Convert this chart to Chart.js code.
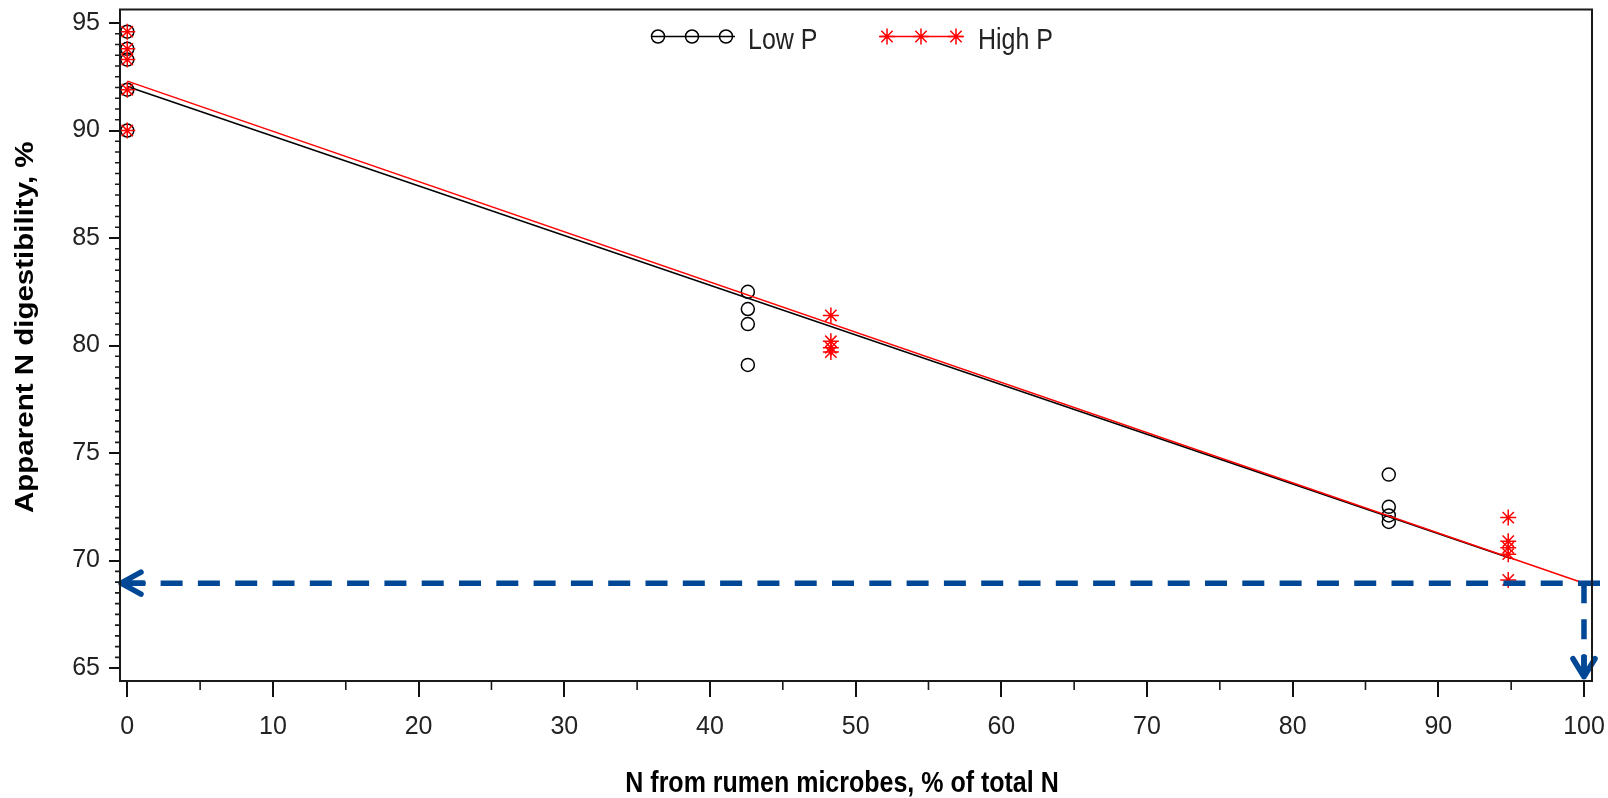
<!DOCTYPE html>
<html>
<head>
<meta charset="utf-8">
<script src="https://cdn.jsdelivr.net/npm/chart.js"></script>
<style>
  html, body { margin: 0; padding: 0; background: #fff; }
</style>
</head>
<body>
<canvas id="chart" width="1608" height="798"></canvas>
<script>
// values
const lowPX = [0, 42.6, 86.6];
const lowPY = [
    [94.6, 93.8, 93.3, 91.9, 90.0],
    [82.5, 81.7, 81.0, 79.1],
    [74.0, 72.5, 72.1, 71.8]
];
const highPX = [0, 48.3, 94.8];
const highPY = [
    [94.6, 93.8, 93.3, 91.9, 90.0],
    [81.4, 80.2, 79.9, 79.7],
    [72.0, 70.9, 70.6, 70.3, 69.1]
];
// fitted lines (end points)
const lowFitX = [0, 95];
const lowFitY = [92.05, 70.1];
const highFitX = [0, 100];
const highFitY = [92.3, 68.95];
// dashed guide arrows
const guideHX = [101.1, -0.5];
const guideHY = [68.95, 68.95];
const guideVX = [100, 100];
const guideVY = [68.95, 64.6];

const xTicks = [0, 10, 20, 30, 40, 50, 60, 70, 80, 90, 100];
const yTicks = [65, 70, 75, 80, 85, 90, 95];

const BLUE = '#004795';

Chart.defaults.font.family = "'Liberation Sans', Arial, sans-serif";

const toPts = (xs, ys) => xs.flatMap((x, i) => ys[i].map(y => ({x: x, y: y})));
const toLine = (xs, ys) => xs.map((x, i) => ({x: x, y: ys[i]}));

// the source picture is a bit stretched vertically, so its text is taller
function stretchedText(ctx, text, x, y, sx, sy) {
    ctx.save();
    ctx.translate(x, y);
    ctx.scale(sx, sy);
    ctx.fillText(text, 0, 0);
    ctx.restore();
}

// frame, minor ticks, arrow heads, legend and axis titles
const decorPlugin = {
    id: 'decor',
    afterDatasetsDraw(chart) {
        const {ctx, scales: {x, y}} = chart;
        ctx.save();
        ctx.strokeStyle = BLUE;
        ctx.lineWidth = 5.5;
        ctx.lineCap = 'round';
        ctx.lineJoin = 'round';
        // left arrow
        let tx = x.getPixelForValue(guideHX[1]) + 1, ty = y.getPixelForValue(guideHY[1]);
        ctx.beginPath();
        ctx.moveTo(tx + 20, ty - 11); ctx.lineTo(tx, ty); ctx.lineTo(tx + 20, ty + 11);
        ctx.moveTo(tx, ty); ctx.lineTo(tx + 22, ty);
        ctx.stroke();
        // down arrow
        tx = x.getPixelForValue(guideVX[1]); ty = y.getPixelForValue(guideVY[1]);
        ctx.beginPath();
        ctx.moveTo(tx - 11, ty - 18); ctx.lineTo(tx, ty); ctx.lineTo(tx + 11, ty - 18);
        ctx.moveTo(tx, ty); ctx.lineTo(tx, ty - 20);
        ctx.stroke();
        ctx.restore();
    },
    afterDraw(chart) {
        const {ctx, chartArea: a, scales: {x, y}} = chart;
        ctx.save();
        ctx.strokeStyle = '#1a1a1a';
        ctx.lineWidth = 2;
        ctx.strokeRect(a.left, a.top, a.right - a.left, a.bottom - a.top);

        // minor ticks
        ctx.lineWidth = 1.6;
        ctx.beginPath();
        for (let v = 5; v < 100; v += 10) {
            const px = x.getPixelForValue(v);
            ctx.moveTo(px, a.bottom); ctx.lineTo(px, a.bottom + 9);
        }
        for (let k = 131; k < 190; k++) {
            if (k % 10 === 0) continue;
            const py = y.getPixelForValue(k / 2);
            ctx.moveTo(a.left - 5, py); ctx.lineTo(a.left, py);
        }
        ctx.stroke();

        // legend
        const cx = (a.left + a.right) / 2;
        const ly = a.top + 27;
        ctx.lineWidth = 1.5;
        ctx.strokeStyle = '#000';
        ctx.beginPath(); ctx.moveTo(cx - 205, ly); ctx.lineTo(cx - 121, ly); ctx.stroke();
        [cx - 198, cx - 164, cx - 130].forEach(mx => {
            ctx.beginPath(); ctx.arc(mx, ly, 6.5, 0, Math.PI * 2); ctx.stroke();
        });
        ctx.strokeStyle = '#ff0000';
        ctx.beginPath(); ctx.moveTo(cx + 24, ly); ctx.lineTo(cx + 107, ly); ctx.stroke();
        [cx + 31, cx + 65, cx + 100].forEach(mx => {
            ctx.beginPath();
            for (let k = 0; k < 4; k++) {
                const ang = k * Math.PI / 4;
                ctx.moveTo(mx - 8 * Math.cos(ang), ly - 8 * Math.sin(ang));
                ctx.lineTo(mx + 8 * Math.cos(ang), ly + 8 * Math.sin(ang));
            }
            ctx.stroke();
        });
        ctx.fillStyle = '#222';
        ctx.font = "25px 'Liberation Sans', Arial, sans-serif";
        ctx.textBaseline = 'alphabetic';
        ctx.textAlign = 'left';
        stretchedText(ctx, 'Low P', cx - 108, a.top + 39, 1, 1.15);
        stretchedText(ctx, 'High P', cx + 122, a.top + 39, 1, 1.15);

        // axis titles
        ctx.fillStyle = '#000';
        ctx.font = "bold 25px 'Liberation Sans', Arial, sans-serif";
        ctx.textAlign = 'center';
        stretchedText(ctx, 'N from rumen microbes, % of total N', cx - 14, chart.height - 6, 1, 1.15);
        ctx.translate(33, (a.top + a.bottom) / 2 - 18);
        ctx.rotate(-Math.PI / 2);
        stretchedText(ctx, 'Apparent N digestibility, %', 0, 0, 1.18, 1);
        ctx.restore();
    }
};

new Chart(document.getElementById('chart'), {
    type: 'scatter',
    data: {
        datasets: [
            {
                label: 'guide h',
                data: toLine(guideHX, guideHY),
                showLine: true,
                borderColor: BLUE,
                borderWidth: 5.5,
                borderDash: [22, 15.3],
                pointRadius: 0,
                clip: false,
                order: 0
            },
            {
                label: 'guide v',
                data: toLine(guideVX, guideVY),
                showLine: true,
                borderColor: BLUE,
                borderWidth: 5.5,
                borderDash: [20, 16],
                pointRadius: 0,
                clip: false,
                order: 0
            },
            {
                label: 'High P',
                data: toPts(highPX, highPY),
                pointStyle: 'star',
                pointRadius: 8,
                borderColor: '#ff0000',
                backgroundColor: '#ff0000',
                pointBorderWidth: 1.5,
                clip: false,
                order: 1
            },
            {
                label: 'High P fit',
                data: toLine(highFitX, highFitY),
                showLine: true,
                borderColor: '#ff0000',
                borderWidth: 1.5,
                pointRadius: 0,
                order: 2
            },
            {
                label: 'Low P',
                data: toPts(lowPX, lowPY),
                pointStyle: 'circle',
                pointRadius: 6.5,
                borderColor: '#000',
                backgroundColor: 'rgba(0,0,0,0)',
                pointBorderWidth: 1.5,
                clip: false,
                order: 3
            },
            {
                label: 'Low P fit',
                data: toLine(lowFitX, lowFitY),
                showLine: true,
                borderColor: '#000',
                borderWidth: 1.5,
                pointRadius: 0,
                order: 4
            }
        ]
    },
    options: {
        responsive: false,
        animation: false,
        devicePixelRatio: 1,
        events: [],
        layout: { padding: { top: 9, right: 16, left: 0, bottom: 0 } },
        plugins: {
            legend: { display: false },
            tooltip: { enabled: false }
        },
        scales: {
            x: {
                type: 'linear',
                min: -0.5,
                max: 100.55,
                afterBuildTicks: s => { s.ticks = xTicks.map(v => ({value: v})); },
                ticks: { font: { size: 25 }, color: '#222', padding: 15, maxRotation: 0, autoSkip: false },
                grid: { drawOnChartArea: false, drawTicks: true, tickLength: 16, color: '#111', lineWidth: 2 },
                border: { display: false },
                afterFit: s => { s.height = 117; s.paddingLeft = 0; s.paddingRight = 0; }
            },
            y: {
                min: 64.4,
                max: 95.63,
                afterBuildTicks: s => { s.ticks = yTicks.map(v => ({value: v})); },
                ticks: { font: { size: 25 }, color: '#222', padding: 9 },
                grid: { drawOnChartArea: false, drawTicks: true, tickLength: 11, color: '#111', lineWidth: 2 },
                border: { display: false },
                afterFit: s => { s.width = 120; s.paddingTop = 0; s.paddingBottom = 0; }
            }
        }
    },
    plugins: [decorPlugin]
});
</script>
</body>
</html>
